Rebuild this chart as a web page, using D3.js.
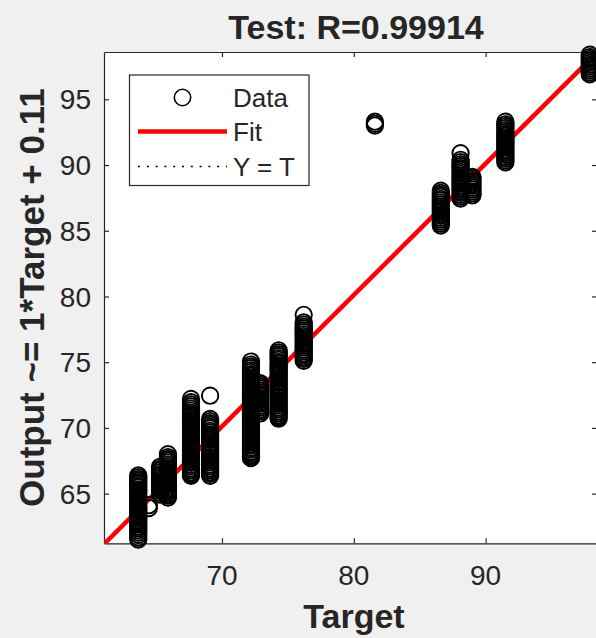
<!DOCTYPE html>
<html><head><meta charset="utf-8">
<script src="https://cdn.jsdelivr.net/npm/d3@7"></script>
<style>html,body{margin:0;padding:0;background:#f0f0f0;} svg{display:block;}</style>
</head><body><svg id="c" width="596" height="638"></svg>
<script>
const titleText = "Test: R=0.99914";
const xLabel = "Target";
const yLabel = "Output ~= 1*Target + 0.11";
const xTicks = [70, 80, 90];
const yTicks = [65, 70, 75, 80, 85, 90, 95];
const xDomain = [61.05, 98.45];
const yDomain = [61.22, 98.6];
const fitSlope = 1;
const fitIntercept = 0.11;
const legendLabels = ["Data", "Fit", "Y = T"];

const clusterTargets = [63.65, 64.45, 65.3, 65.9, 67.65, 69.1, 72.2, 72.9, 74.3, 76.2, 81.6, 86.6, 88.1, 89.0, 91.5, 97.9];
const clusterOutputs = [
  [61.50, 61.66, 61.87, 62.04, 62.21, 62.37, 62.50, 62.67, 62.80, 62.96, 63.11, 63.23, 63.38, 63.52, 63.67, 63.79, 63.94, 64.06, 64.21, 64.35, 64.48, 64.63, 64.77, 64.89, 65.04, 65.18, 65.30, 65.46, 65.58, 65.73, 65.85, 65.98, 66.11, 66.24, 66.38],
  [63.90, 64.12],
  [64.92, 65.06, 65.21, 65.35, 65.48, 65.64, 65.77, 65.92, 66.05, 66.19, 66.34, 66.47, 66.62, 66.76, 66.88, 67.04],
  [64.70, 64.84, 64.97, 65.12, 65.26, 65.39, 65.54, 65.68, 65.81, 65.95, 66.10, 66.23, 66.38, 66.51, 66.66, 66.80, 66.93, 67.08, 67.21, 67.36, 67.50, 67.64, 67.78, 68.00],
  [66.35, 66.49, 66.62, 66.78, 66.90, 67.06, 67.19, 67.34, 67.47, 67.62, 67.75, 67.91, 68.03, 68.19, 68.31, 68.47, 68.60, 68.76, 68.89, 69.04, 69.17, 69.33, 69.45, 69.61, 69.74, 69.90, 70.02, 70.18, 70.30, 70.46, 70.59, 70.75, 70.87, 71.03, 71.16, 71.32, 71.47, 71.63, 71.78, 71.96, 72.20],
  [66.35, 66.51, 66.63, 66.79, 66.92, 67.08, 67.20, 67.37, 67.49, 67.65, 67.78, 67.94, 68.06, 68.23, 68.35, 68.51, 68.64, 68.80, 68.92, 69.09, 69.21, 69.37, 69.50, 69.66, 69.78, 69.95, 70.07, 70.23, 70.36, 70.52, 70.68, 72.45],
  [67.70, 67.83, 67.94, 68.09, 68.21, 68.37, 68.49, 68.65, 68.77, 68.93, 69.05, 69.21, 69.33, 69.49, 69.61, 69.77, 69.89, 70.05, 70.17, 70.33, 70.45, 70.61, 70.73, 70.89, 71.01, 71.17, 71.29, 71.45, 71.57, 71.73, 71.85, 72.01, 72.13, 72.29, 72.41, 72.57, 72.69, 72.85, 72.97, 73.13, 73.25, 73.41, 73.53, 73.69, 73.81, 73.97, 74.09, 74.25, 74.37, 74.53, 74.66, 74.82, 75.05],
  [71.10, 71.26, 71.39, 71.55, 71.68, 71.84, 71.97, 72.13, 72.26, 72.42, 72.55, 72.71, 72.84, 73.00, 73.13, 73.28, 73.40],
  [70.70, 70.83, 70.96, 71.12, 71.25, 71.41, 71.54, 71.70, 71.83, 71.99, 72.12, 72.28, 72.41, 72.57, 72.70, 72.86, 72.99, 73.15, 73.28, 73.44, 73.57, 73.73, 73.86, 74.02, 74.15, 74.31, 74.44, 74.60, 74.73, 74.89, 75.02, 75.18, 75.31, 75.47, 75.60, 75.74, 75.90],
  [75.10, 75.25, 75.38, 75.54, 75.67, 75.83, 75.96, 76.12, 76.25, 76.41, 76.54, 76.70, 76.83, 76.99, 77.12, 77.28, 77.41, 77.57, 77.70, 77.86, 78.02, 78.60],
  [93.00, 93.14, 93.30],
  [85.40, 85.55, 85.69, 85.84, 85.98, 86.14, 86.27, 86.43, 86.56, 86.72, 86.85, 87.01, 87.14, 87.30, 87.43, 87.59, 87.72, 87.88, 88.05],
  [87.45, 87.59, 87.73, 87.88, 88.02, 88.17, 88.31, 88.46, 88.60, 88.75, 88.89, 89.04, 89.18, 89.33, 89.47, 89.62, 89.76, 89.91, 90.05, 90.22, 90.40, 90.90],
  [87.70, 87.84, 87.98, 88.13, 88.27, 88.42, 88.56, 88.71, 88.85, 89.00, 89.10],
  [90.20, 90.34, 90.49, 90.63, 90.78, 90.92, 91.07, 91.21, 91.36, 91.50, 91.65, 91.79, 91.94, 92.08, 92.23, 92.37, 92.52, 92.66, 92.81, 92.95, 93.10, 93.30],
  [96.90, 97.04, 97.19, 97.33, 97.48, 97.62, 97.77, 97.91, 98.06, 98.20, 98.40]
];

const W = 596, H = 638;
const plotL = 104, plotR = 597, plotT = 52, plotB = 543.3;
const ink = "#262626";
const fontFam = "'Liberation Sans', Arial, Helvetica, sans-serif";

const svg = d3.select("#c");
svg.append("rect").attr("width", W).attr("height", H).attr("fill", "#f0f0f0");

const x = d3.scaleLinear().domain(xDomain).range([plotL, plotR]);
const y = d3.scaleLinear().domain(yDomain).range([plotB, plotT]);

svg.append("defs").append("clipPath").attr("id", "clip")
  .append("rect").attr("x", plotL).attr("y", plotT).attr("width", plotR - plotL).attr("height", plotB - plotT);

svg.append("rect").attr("x", plotL).attr("y", plotT).attr("width", plotR - plotL).attr("height", plotB - plotT)
  .attr("fill", "#ffffff");

const tickLen = 5;
const axB = d3.axisBottom(x).tickValues(xTicks).tickSizeInner(-tickLen).tickSizeOuter(0).tickFormat("");
const axT = d3.axisTop(x).tickValues(xTicks).tickSizeInner(-tickLen).tickSizeOuter(0).tickFormat("");
const axL = d3.axisLeft(y).tickValues(yTicks).tickSizeInner(-tickLen).tickSizeOuter(0).tickFormat("");
const axR = d3.axisRight(y).tickValues(yTicks).tickSizeInner(-tickLen).tickSizeOuter(0).tickFormat("");
[[axB, `translate(0,${plotB})`], [axT, `translate(0,${plotT})`], [axL, `translate(${plotL},0)`], [axR, `translate(${plotR},0)`]]
  .forEach(([ax, tr]) => {
    const g = svg.append("g").attr("transform", tr).call(ax);
    g.selectAll("path").attr("stroke", ink).attr("stroke-width", 1.2);
    g.selectAll("line").attr("stroke", ink).attr("stroke-width", 1.2);
  });

svg.append("g").selectAll("text").data(xTicks).join("text")
  .attr("x", d => x(d)).attr("y", 585)
  .attr("text-anchor", "middle").attr("font-family", fontFam).attr("font-size", 28).attr("fill", ink)
  .text(d => d);
svg.append("g").selectAll("text").data(yTicks).join("text")
  .attr("x", plotL - 13).attr("y", d => y(d)).attr("dy", "0.36em")
  .attr("text-anchor", "end").attr("font-family", fontFam).attr("font-size", 28).attr("fill", ink)
  .text(d => d);

const lineG = svg.append("g").attr("clip-path", "url(#clip)");
lineG.append("line")
  .attr("x1", x(xDomain[0])).attr("y1", y(xDomain[0]))
  .attr("x2", x(xDomain[1])).attr("y2", y(xDomain[1]))
  .attr("stroke", "#000").attr("stroke-width", 1.2).attr("stroke-dasharray", "2,7");
lineG.append("line")
  .attr("x1", x(xDomain[0])).attr("y1", y(fitSlope * xDomain[0] + fitIntercept))
  .attr("x2", x(xDomain[1])).attr("y2", y(fitSlope * xDomain[1] + fitIntercept))
  .attr("stroke", "#ff0000").attr("stroke-width", 4.5);

const pts = [];
clusterTargets.forEach((t, i) => clusterOutputs[i].forEach(o => pts.push([t, o])));
svg.append("g").selectAll("circle").data(pts).join("circle")
  .attr("cx", d => x(d[0])).attr("cy", d => y(d[1])).attr("r", 8.2)
  .attr("fill", "none").attr("stroke", "#000").attr("stroke-width", 1.9);

svg.append("text").attr("x", 356).attr("y", 39)
  .attr("text-anchor", "middle").attr("font-family", fontFam).attr("font-size", 34).attr("font-weight", "bold")
  .attr("fill", ink).text(titleText);
svg.append("text").attr("x", 354).attr("y", 628)
  .attr("text-anchor", "middle").attr("font-family", fontFam).attr("font-size", 34).attr("font-weight", "bold")
  .attr("fill", ink).text(xLabel);
svg.append("text").attr("transform", `translate(44,${(plotT + plotB) / 2}) rotate(-90)`)
  .attr("text-anchor", "middle").attr("font-family", fontFam).attr("font-size", 35).attr("font-weight", "bold")
  .attr("fill", ink).text(yLabel);

const lg = svg.append("g");
lg.append("rect").attr("x", 129.5).attr("y", 75).attr("width", 179.5).attr("height", 110.5)
  .attr("fill", "#fff").attr("stroke", ink).attr("stroke-width", 1.2);
const rowY = [97.5, 131.5, 166.5];
lg.append("circle").attr("cx", 182.5).attr("cy", rowY[0]).attr("r", 8.2)
  .attr("fill", "none").attr("stroke", "#000").attr("stroke-width", 1.6);
lg.append("line").attr("x1", 138).attr("x2", 227).attr("y1", rowY[1]).attr("y2", rowY[1])
  .attr("stroke", "#ff0000").attr("stroke-width", 4.5);
lg.append("line").attr("x1", 138).attr("x2", 227).attr("y1", rowY[2]).attr("y2", rowY[2])
  .attr("stroke", "#000").attr("stroke-width", 1.3).attr("stroke-dasharray", "2,6.8");
lg.selectAll("text.lab").data(legendLabels).join("text").attr("class", "lab")
  .attr("x", 233).attr("y", (d, i) => rowY[i]).attr("dy", "0.36em")
  .attr("font-family", fontFam).attr("font-size", 26).attr("fill", ink).text(d => d);
</script>
</body></html>
